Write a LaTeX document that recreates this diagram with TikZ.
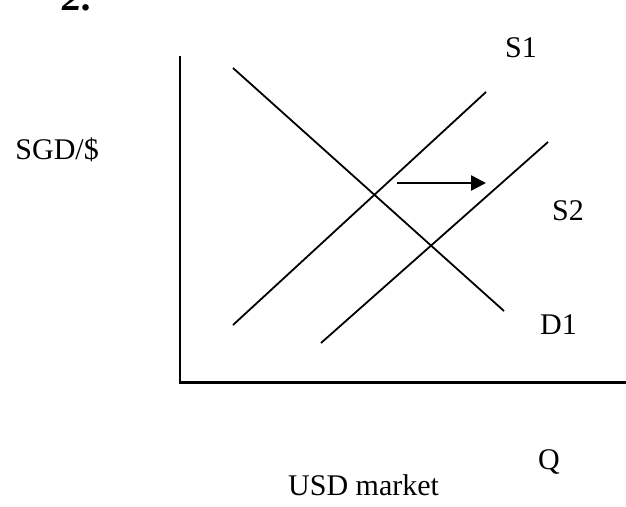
\documentclass[tikz,border=0pt]{standalone}
\usepackage{fontspec}
\setmainfont{Liberation Serif}
\usetikzlibrary{arrows.meta}
\begin{document}
\begin{tikzpicture}[x=1pt,y=-1pt,
  curve/.style={line width=1.8pt},
  axisline/.style={line width=2.2pt},
  lbl/.style={anchor=base west,inner sep=0pt,font=\fontsize{30}{36}\selectfont},
  shiftarrow/.style={line width=2.6pt,-{Triangle[length=15pt,width=15pt]}}]
\useasboundingbox (0,0) rectangle (626,506);
\fill[white] (0,0) rectangle (626,506);
% axes
\coordinate (ytop) at (180,56);
\coordinate (orig) at (180,382.5);
\coordinate (xend) at (630,382.5);
\draw[axisline] (ytop) -- (orig) -- (xend);
% curves
\coordinate (d1a) at (233,68);
\coordinate (d1b) at (504,311);
\coordinate (s1a) at (233,325);
\coordinate (s1b) at (486,92);
\coordinate (s2a) at (321,343);
\coordinate (s2b) at (548,142);
\draw[curve] (d1a) -- (d1b);
\draw[curve] (s1a) -- (s1b);
\draw[curve] (s2a) -- (s2b);
% shift arrow
\coordinate (arA) at (397,183);
\coordinate (arB) at (486,183);
\draw[shiftarrow] (arA) -- (arB);
% labels
\node[anchor=base west,inner sep=0pt,font=\fontsize{40}{44}\selectfont\bfseries\itshape] (num) at (62,10) {2.};
\node[lbl] (lS1) at (505,57) {S1};
\node[lbl] (lS2) at (552,220) {S2};
\node[lbl] (lD1) at (540,334) {D1};
\node[lbl,anchor=base east] (lY) at (99,159) {SGD/\$};
\node[lbl] (lQ) at (538,469) {Q};
\node[lbl] (lX) at (288,495) {USD market};
\end{tikzpicture}
\end{document}
